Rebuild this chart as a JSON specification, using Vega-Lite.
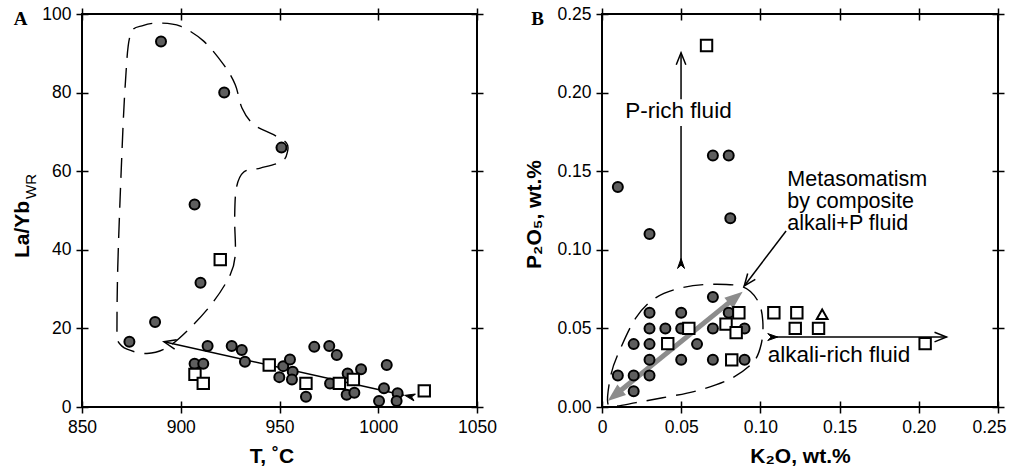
{
  "$schema": "https://vega.github.io/schema/vega-lite/v6.json",
  "padding": {"left": 10, "top": 4, "right": 0, "bottom": 0},
  "spacing": 24,
  "background": "white",
  "datasets": {
    "circA": [
      {"x": 890, "y": 93}, {"x": 922, "y": 80}, {"x": 951, "y": 66}, {"x": 907, "y": 51.5},
      {"x": 910, "y": 31.6}, {"x": 887, "y": 21.6}, {"x": 874, "y": 16.6}, {"x": 913.6, "y": 15.5},
      {"x": 907, "y": 11}, {"x": 911.4, "y": 11}, {"x": 925.8, "y": 15.5}, {"x": 930.9, "y": 14.5},
      {"x": 932.5, "y": 11.5}, {"x": 951.9, "y": 10.4}, {"x": 955.3, "y": 12.1}, {"x": 949.9, "y": 7.6},
      {"x": 956.7, "y": 9}, {"x": 956.3, "y": 7}, {"x": 963.4, "y": 2.6}, {"x": 967.6, "y": 15.3},
      {"x": 975.2, "y": 15.5}, {"x": 979, "y": 13.2}, {"x": 975.6, "y": 6}, {"x": 984.5, "y": 8.5},
      {"x": 991.3, "y": 9.6}, {"x": 984, "y": 3.1}, {"x": 987.9, "y": 3.6}, {"x": 1004.3, "y": 10.7},
      {"x": 1002.9, "y": 4.8}, {"x": 1000.4, "y": 1.5}, {"x": 1009.8, "y": 3.5}, {"x": 1009.3, "y": 1.5}
    ],
    "sqA": [
      {"x": 920, "y": 37.5}, {"x": 944.8, "y": 10.7}, {"x": 907.2, "y": 8.3}, {"x": 911.4, "y": 6.0},
      {"x": 963.4, "y": 6.0}, {"x": 980.3, "y": 6.0}, {"x": 987.4, "y": 7.0}, {"x": 1023.3, "y": 4.1}
    ],
    "outA": [
      {"i": 1, "x": 867.7, "y": 19.3}, {"i": 2, "x": 868.1, "y": 35.4}, {"i": 3, "x": 869.9, "y": 60.8},
      {"i": 4, "x": 871.9, "y": 82.0}, {"i": 5, "x": 874.5, "y": 94.7}, {"i": 6, "x": 881.2, "y": 97.1},
      {"i": 7, "x": 889.7, "y": 97.7}, {"i": 8, "x": 899.8, "y": 96.9}, {"i": 9, "x": 911.6, "y": 93.1},
      {"i": 10, "x": 921.7, "y": 87.1}, {"i": 11, "x": 927.6, "y": 82.0}, {"i": 12, "x": 931.0, "y": 76.1},
      {"i": 13, "x": 936.9, "y": 71.9}, {"i": 14, "x": 947.0, "y": 69.3}, {"i": 15, "x": 953.5, "y": 67.2},
      {"i": 16, "x": 954.1, "y": 65.1}, {"i": 17, "x": 951.3, "y": 62.5}, {"i": 18, "x": 940.3, "y": 60.8},
      {"i": 19, "x": 931.9, "y": 59.8}, {"i": 20, "x": 928.2, "y": 55.8}, {"i": 21, "x": 927.3, "y": 48.1},
      {"i": 22, "x": 927.6, "y": 38.8}, {"i": 23, "x": 925.1, "y": 33.7}, {"i": 24, "x": 916.7, "y": 26.9},
      {"i": 25, "x": 904.9, "y": 20.2}, {"i": 26, "x": 893.0, "y": 15.1}, {"i": 27, "x": 882.9, "y": 13.6},
      {"i": 28, "x": 872.8, "y": 14.7}, {"i": 29, "x": 868.1, "y": 16.8}
    ],
    "circB": [
      {"x": 0.01, "y": 0.14}, {"x": 0.03, "y": 0.11}, {"x": 0.07, "y": 0.16}, {"x": 0.08, "y": 0.16},
      {"x": 0.081, "y": 0.12}, {"x": 0.07, "y": 0.07}, {"x": 0.03, "y": 0.06}, {"x": 0.05, "y": 0.06},
      {"x": 0.08, "y": 0.06}, {"x": 0.03, "y": 0.05}, {"x": 0.04, "y": 0.05}, {"x": 0.05, "y": 0.05},
      {"x": 0.07, "y": 0.05}, {"x": 0.09, "y": 0.05}, {"x": 0.02, "y": 0.04}, {"x": 0.03, "y": 0.04},
      {"x": 0.06, "y": 0.04}, {"x": 0.03, "y": 0.03}, {"x": 0.05, "y": 0.03}, {"x": 0.07, "y": 0.03},
      {"x": 0.09, "y": 0.03}, {"x": 0.01, "y": 0.02}, {"x": 0.02, "y": 0.02}, {"x": 0.03, "y": 0.02},
      {"x": 0.02, "y": 0.01}
    ],
    "sqB": [
      {"x": 0.066, "y": 0.23}, {"x": 0.0864, "y": 0.06}, {"x": 0.0548, "y": 0.05}, {"x": 0.0783, "y": 0.0527},
      {"x": 0.0847, "y": 0.0473}, {"x": 0.0415, "y": 0.0403}, {"x": 0.0819, "y": 0.03}, {"x": 0.1085, "y": 0.06},
      {"x": 0.123, "y": 0.06}, {"x": 0.122, "y": 0.05}, {"x": 0.1367, "y": 0.05}, {"x": 0.204, "y": 0.0403}
    ],
    "triB": [{"x": 0.139, "y": 0.059}],
    "outB": [
      {"i": 1, "x": 0.0036, "y": 0.0028}, {"i": 2, "x": 0.0057, "y": 0.0208}, {"i": 3, "x": 0.011, "y": 0.0357},
      {"i": 4, "x": 0.0215, "y": 0.0569}, {"i": 5, "x": 0.0341, "y": 0.0696}, {"i": 6, "x": 0.051, "y": 0.076},
      {"i": 7, "x": 0.0699, "y": 0.0781}, {"i": 8, "x": 0.0889, "y": 0.0764}, {"i": 9, "x": 0.0984, "y": 0.0675},
      {"i": 10, "x": 0.1015, "y": 0.0548}, {"i": 11, "x": 0.1005, "y": 0.0399}, {"i": 12, "x": 0.0952, "y": 0.0282},
      {"i": 13, "x": 0.0805, "y": 0.0176}, {"i": 14, "x": 0.0594, "y": 0.0102}, {"i": 15, "x": 0.0383, "y": 0.0059},
      {"i": 16, "x": 0.0215, "y": 0.0028}, {"i": 17, "x": 0.0088, "y": 0.0006}
    ]
  },
  "hconcat": [
    {
      "width": 395,
      "height": 393,
      "resolve": {"axis": {"x": "independent", "y": "independent"}},
      "layer": [
        {
          "data": {"name": "outA"},
          "mark": {"type": "line", "interpolate": "cardinal-closed", "stroke": "black", "strokeWidth": 1.4, "strokeDash": [20, 10]},
          "encoding": {
            "x": {"field": "x", "type": "quantitative",
              "scale": {"domain": [850, 1050], "nice": false, "zero": false},
              "axis": {"orient": "bottom", "values": [850, 900, 950, 1000, 1050], "format": "d",
                "title": "T, ˚C", "titleX": 189.5, "titleY": 61, "titleBaseline": "alphabetic"}},
            "y": {"field": "y", "type": "quantitative",
              "scale": {"domain": [0, 100], "nice": false, "zero": false},
              "axis": {"orient": "left", "values": [0, 20, 40, 60, 80, 100], "format": "d",
                "title": "La/Yb", "titleAngle": 270, "titleAlign": "center", "titleBaseline": "alphabetic",
                "titleX": -60, "titleY": 215}},
            "order": {"field": "i", "type": "quantitative"}
          }
        },
        {
          "data": {"values": [{"x": 891.5, "y": 16.6, "x2": 1013, "y2": 3.0}]},
          "mark": {"type": "rule", "stroke": "black", "strokeWidth": 1.5},
          "encoding": {
            "x": {"field": "x", "type": "quantitative",
              "axis": {"orient": "top", "values": [850, 900, 950, 1000, 1050], "labels": false, "title": null}},
            "y": {"field": "y", "type": "quantitative",
              "axis": {"orient": "right", "values": [0, 20, 40, 60, 80, 100], "labels": false, "title": null}},
            "x2": {"field": "x2"},
            "y2": {"field": "y2"}
          }
        },
        {
          "data": {"name": "circA"},
          "mark": {"type": "point", "shape": "circle", "filled": true, "fill": "#5e5e5e", "stroke": "black", "strokeWidth": 2, "size": 100, "opacity": 1},
          "encoding": {
            "x": {"field": "x", "type": "quantitative", "axis": null},
            "y": {"field": "y", "type": "quantitative",
              "axis": {"orient": "left", "labels": false, "ticks": false, "domain": false,
                "title": "WR", "titleFontSize": 15, "titleFontWeight": "normal", "titleAngle": 270,
                "titleAlign": "center", "titleBaseline": "alphabetic", "titleX": -53, "titleY": 172}}
          }
        },
        {
          "data": {"name": "sqA"},
          "mark": {"type": "point", "shape": "square", "filled": true, "fill": "white", "stroke": "black", "strokeWidth": 2, "size": 130, "opacity": 1},
          "encoding": {
            "x": {"field": "x", "type": "quantitative", "axis": null},
            "y": {"field": "y", "type": "quantitative", "axis": null}
          }
        },
        {
          "data": {"values": [{"x": 891.5, "y": 16.6, "a": 192.5}]},
          "mark": {"type": "point", "shape": "M-1,-0.4L0,0L-1,0.4", "filled": false, "stroke": "black", "strokeWidth": 1.5, "size": 576, "opacity": 1},
          "encoding": {
            "x": {"field": "x", "type": "quantitative", "axis": null},
            "y": {"field": "y", "type": "quantitative", "axis": null},
            "angle": {"field": "a", "type": "quantitative", "scale": null}
          }
        },
        {
          "data": {"values": [{"x": 1016, "y": 2.7, "a": 192.5}]},
          "mark": {"type": "point", "shape": "M-0.6,-0.42L0.6,0L-0.6,0.42L-0.2,0Z", "filled": true, "fill": "black", "stroke": "black", "strokeWidth": 1, "size": 276, "opacity": 1},
          "encoding": {
            "x": {"field": "x", "type": "quantitative", "axis": null},
            "y": {"field": "y", "type": "quantitative", "axis": null},
            "angle": {"field": "a", "type": "quantitative", "scale": null}
          }
        },
        {
          "data": {"values": [{"x": 818.9, "y": 97.2, "t": "A"}]},
          "mark": {"type": "text", "font": "Liberation Serif", "fontWeight": "bold", "fontSize": 19, "align": "center", "baseline": "alphabetic", "color": "black"},
          "encoding": {
            "x": {"field": "x", "type": "quantitative", "axis": null},
            "y": {"field": "y", "type": "quantitative", "axis": null},
            "text": {"field": "t"}
          }
        }
      ]
    },
    {
      "width": 396,
      "height": 393,
      "resolve": {"axis": {"x": "independent", "y": "independent"}},
      "layer": [
        {
          "data": {"name": "outB"},
          "mark": {"type": "line", "interpolate": "cardinal-closed", "stroke": "black", "strokeWidth": 1.4, "strokeDash": [20, 10]},
          "encoding": {
            "x": {"field": "x", "type": "quantitative",
              "scale": {"domain": [0, 0.25], "nice": false, "zero": false},
              "axis": {"orient": "bottom", "values": [0, 0.05, 0.1, 0.15, 0.2, 0.25],
                "labelExpr": "datum.value === 0 ? '0' : format(datum.value, '.2f')",
                "labelOffset": {"condition": {"test": "datum.value > 0.24", "value": -9}, "value": 0},
                "title": "K₂O, wt.%", "titleY": 61, "titleBaseline": "alphabetic"}},
            "y": {"field": "y", "type": "quantitative",
              "scale": {"domain": [0, 0.25], "nice": false, "zero": false},
              "axis": {"orient": "left", "values": [0, 0.05, 0.1, 0.15, 0.2, 0.25], "format": ".2f",
                "title": "P₂O₅, wt.%", "titleAngle": 270, "titleAlign": "center", "titleBaseline": "alphabetic",
                "titleX": -68, "titleY": 200}},
            "order": {"field": "i", "type": "quantitative"}
          }
        },
        {
          "data": {"values": [
            {"x": 0.0499, "y": 0.2254, "x2": 0.0499, "y2": 0.1957},
            {"x": 0.0499, "y": 0.1788, "x2": 0.0499, "y2": 0.0913},
            {"x": 0.1078, "y": 0.0445, "x2": 0.2175, "y2": 0.0445},
            {"x": 0.1162, "y": 0.112, "x2": 0.0898, "y2": 0.077}
          ]},
          "mark": {"type": "rule", "stroke": "black", "strokeWidth": 1.5},
          "encoding": {
            "x": {"field": "x", "type": "quantitative",
              "axis": {"orient": "top", "values": [0, 0.05, 0.1, 0.15, 0.2, 0.25], "labels": false, "title": null}},
            "y": {"field": "y", "type": "quantitative",
              "axis": {"orient": "right", "values": [0, 0.05, 0.1, 0.15, 0.2, 0.25], "labels": false, "title": null}},
            "x2": {"field": "x2"},
            "y2": {"field": "y2"}
          }
        },
        {
          "data": {"values": [{"x": 0.0075, "y": 0.0070, "x2": 0.0849, "y2": 0.0702}]},
          "mark": {"type": "rule", "stroke": "#8c8c8c", "strokeWidth": 5},
          "encoding": {
            "x": {"field": "x", "type": "quantitative", "axis": null},
            "y": {"field": "y", "type": "quantitative", "axis": null},
            "x2": {"field": "x2"},
            "y2": {"field": "y2"}
          }
        },
        {
          "data": {"values": [{"x": 0.0036, "y": 0.0038, "a": 141}, {"x": 0.0888, "y": 0.0733, "a": 321}]},
          "mark": {"type": "point", "shape": "M-1,-0.38L0,0L-1,0.38Z", "filled": true, "fill": "#8c8c8c", "strokeWidth": 0, "size": 1296, "opacity": 1},
          "encoding": {
            "x": {"field": "x", "type": "quantitative", "axis": null},
            "y": {"field": "y", "type": "quantitative", "axis": null},
            "angle": {"field": "a", "type": "quantitative", "scale": null}
          }
        },
        {
          "data": {"name": "circB"},
          "mark": {"type": "point", "shape": "circle", "filled": true, "fill": "#5e5e5e", "stroke": "black", "strokeWidth": 2, "size": 100, "opacity": 1},
          "encoding": {
            "x": {"field": "x", "type": "quantitative", "axis": null},
            "y": {"field": "y", "type": "quantitative", "axis": null}
          }
        },
        {
          "data": {"name": "sqB"},
          "mark": {"type": "point", "shape": "square", "filled": true, "fill": "white", "stroke": "black", "strokeWidth": 2, "size": 130, "opacity": 1},
          "encoding": {
            "x": {"field": "x", "type": "quantitative", "axis": null},
            "y": {"field": "y", "type": "quantitative", "axis": null}
          }
        },
        {
          "data": {"name": "triB"},
          "mark": {"type": "point", "shape": "triangle-up", "filled": true, "fill": "white", "stroke": "black", "strokeWidth": 2, "size": 115, "opacity": 1},
          "encoding": {
            "x": {"field": "x", "type": "quantitative", "axis": null},
            "y": {"field": "y", "type": "quantitative", "axis": null}
          }
        },
        {
          "data": {"values": [
            {"x": 0.0499, "y": 0.2254, "a": 270},
            {"x": 0.2175, "y": 0.0445, "a": 0},
            {"x": 0.0898, "y": 0.077, "a": 127.2}
          ]},
          "mark": {"type": "point", "shape": "M-1,-0.4L0,0L-1,0.4", "filled": false, "stroke": "black", "strokeWidth": 1.5, "size": 576, "opacity": 1},
          "encoding": {
            "x": {"field": "x", "type": "quantitative", "axis": null},
            "y": {"field": "y", "type": "quantitative", "axis": null},
            "angle": {"field": "a", "type": "quantitative", "scale": null}
          }
        },
        {
          "data": {"values": [
            {"x": 0.0499, "y": 0.0913, "a": 270},
            {"x": 0.1078, "y": 0.0445, "a": 0}
          ]},
          "mark": {"type": "point", "shape": "M-0.6,-0.42L0.6,0L-0.6,0.42L-0.2,0Z", "filled": true, "fill": "black", "stroke": "black", "strokeWidth": 1, "size": 276, "opacity": 1},
          "encoding": {
            "x": {"field": "x", "type": "quantitative", "axis": null},
            "y": {"field": "y", "type": "quantitative", "axis": null},
            "angle": {"field": "a", "type": "quantitative", "scale": null}
          }
        },
        {
          "data": {"values": [{"x": 0.0483, "y": 0.184, "t": "P-rich fluid"}]},
          "mark": {"type": "text", "font": "Liberation Sans", "fontSize": 22.5, "align": "center", "baseline": "alphabetic", "color": "black"},
          "encoding": {
            "x": {"field": "x", "type": "quantitative", "axis": null},
            "y": {"field": "y", "type": "quantitative", "axis": null},
            "text": {"field": "t"}
          }
        },
        {
          "data": {"values": [{"x": 0.1046, "y": 0.0284, "t": "alkali-rich fluid"}]},
          "mark": {"type": "text", "font": "Liberation Sans", "fontSize": 22.5, "align": "left", "baseline": "alphabetic", "color": "black"},
          "encoding": {
            "x": {"field": "x", "type": "quantitative", "axis": null},
            "y": {"field": "y", "type": "quantitative", "axis": null},
            "text": {"field": "t"}
          }
        },
        {
          "data": {"values": [
            {"x": 0.117, "y": 0.1406, "t": "Metasomatism\nby composite\nalkali+P fluid"}
          ]},
          "mark": {"type": "text", "font": "Liberation Sans", "fontSize": 21.5, "align": "left", "baseline": "alphabetic", "lineBreak": "\n", "lineHeight": 22, "color": "black"},
          "encoding": {
            "x": {"field": "x", "type": "quantitative", "axis": null},
            "y": {"field": "y", "type": "quantitative", "axis": null},
            "text": {"field": "t"}
          }
        },
        {
          "data": {"values": [{"x": -0.0406, "y": 0.243, "t": "B"}]},
          "mark": {"type": "text", "font": "Liberation Serif", "fontWeight": "bold", "fontSize": 19, "align": "center", "baseline": "alphabetic", "color": "black"},
          "encoding": {
            "x": {"field": "x", "type": "quantitative", "axis": null},
            "y": {"field": "y", "type": "quantitative", "axis": null},
            "text": {"field": "t"}
          }
        }
      ]
    }
  ],
  "config": {
    "view": {"stroke": "black", "strokeWidth": 2},
    "font": "Liberation Sans",
    "axis": {
      "offset": -6,
      "tickSize": 12,
      "tickWidth": 1.5,
      "tickColor": "black",
      "domain": false,
      "grid": false,
      "labelFlush": false,
      "labelOverlap": false,
      "labelFont": "Liberation Sans",
      "labelFontSize": 17.5,
      "labelColor": "black",
      "labelPadding": 5,
      "titleFont": "Liberation Sans",
      "titleFontSize": 21,
      "titleFontWeight": "bold",
      "titleColor": "black"
    }
  }
}
